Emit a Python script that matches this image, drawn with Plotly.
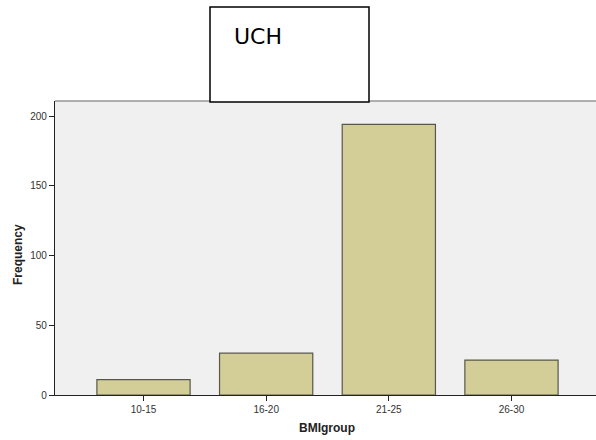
import plotly.graph_objects as go

categories = ["10-15", "16-20", "21-25", "26-30"]
frequency = [11, 30, 194, 25]
y_ticks = [0, 50, 100, 150, 200]

W, H = 596, 440
# plot area in page pixels: x 55..596, y 101..395
L, R, T, B = 55, 0, 101, 45
pw, ph = W - L - R, H - T - B

def px(x):
    return (x - L) / pw

def py(y):
    return (H - B - y) / ph

fig = go.Figure(go.Bar(
    x=categories, y=frequency,
    marker=dict(color="#D3CE97", line=dict(color="#58574B", width=1.2)),
    width=0.76,
))

fig.update_layout(
    width=W, height=H,
    margin=dict(l=L, r=R, t=T, b=B, autoexpand=False),
    paper_bgcolor="white",
    plot_bgcolor="#F0F0F0",
    showlegend=False,
    font=dict(family="Liberation Sans, Arial", color="#222"),
)
fig.update_xaxes(
    range=[-0.7215, 3.689], automargin=False,
    showline=True, linecolor="#222", linewidth=1.2, mirror=False,
    ticks="outside", ticklen=5, tickcolor="#222",
    tickfont=dict(size=10, color="#333"),
    showgrid=False,
)
fig.update_yaxes(
    range=[0, 210.75], automargin=False,
    tickvals=y_ticks,
    showline=True, linecolor="#222", linewidth=1.2,
    ticks="outside", ticklen=5, tickcolor="#222",
    tickfont=dict(size=10, color="#333"),
    showgrid=False, zeroline=False,
)
# axis titles
fig.add_annotation(xref="paper", yref="paper", x=px(327), y=py(428),
                   xanchor="center", yanchor="middle", showarrow=False,
                   text="<b>BMIgroup</b>", font=dict(size=12, color="#222"))
fig.add_annotation(xref="paper", yref="paper", x=px(18), y=py(255),
                   xanchor="center", yanchor="middle", showarrow=False, textangle=-90,
                   text="<b>Frequency</b>", font=dict(size=12, color="#222"))
# top border of plot
fig.add_shape(type="line", xref="paper", yref="paper", x0=0, x1=1, y0=1, y1=1,
              line=dict(color="#666", width=1.2))
# title box
fig.add_shape(type="rect", xref="paper", yref="paper",
              x0=px(210), x1=px(369), y0=py(102), y1=py(7),
              line=dict(color="black", width=1.5), fillcolor="white", layer="above")
fig.add_annotation(xref="paper", yref="paper", x=px(232), y=py(36),
                   xanchor="left", yanchor="middle", showarrow=False,
                   text="UCH", font=dict(family="DejaVu Sans", size=22, color="black"))

fig.write_html(
    "out.html",
    config={"displayModeBar": False},
    post_script="document.body.style.margin='0';document.body.style.overflow='hidden';",
)
